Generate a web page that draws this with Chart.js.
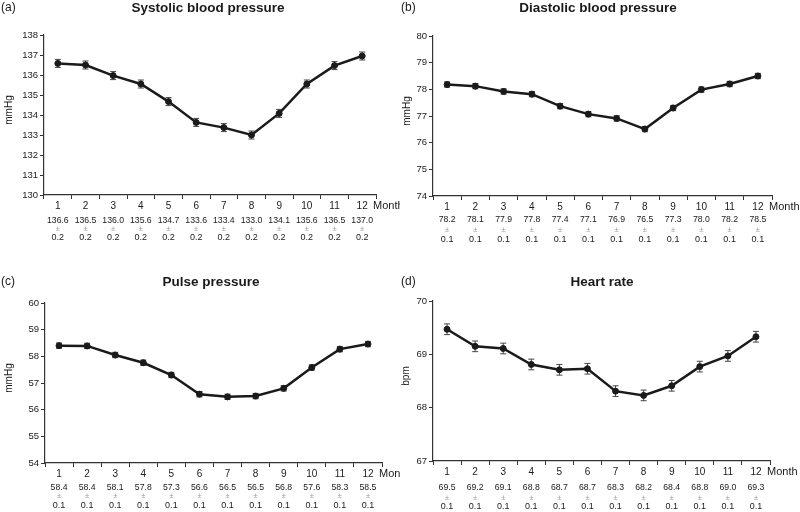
<!DOCTYPE html>
<html>
<head>
<meta charset="utf-8">
<script src="https://cdn.jsdelivr.net/npm/chart.js@4.4.0/dist/chart.umd.min.js"></script>
<style>
  body { margin: 0; background: #fff; }
  #wrap { position: relative; width: 800px; height: 512px; }
  canvas { position: absolute; }
</style>
</head>
<body>
<div id="wrap">
  <canvas id="sbp" width="400" height="256" style="left:0;top:0"></canvas>
  <canvas id="dbp" width="400" height="256" style="left:400px;top:0"></canvas>
  <canvas id="pp" width="400" height="256" style="left:0;top:256px"></canvas>
  <canvas id="hr" width="400" height="256" style="left:400px;top:256px"></canvas>
</div>
<script>
const months = ['1', '2', '3', '4', '5', '6', '7', '8', '9', '10', '11', '12'];

// (a) systolic
const sbpMean = [136.58, 136.5, 135.97, 135.55, 134.67, 133.63, 133.37, 133.0, 134.08, 135.55, 136.47, 136.95];
const sbpErr = [0.2, 0.2, 0.2, 0.2, 0.2, 0.2, 0.2, 0.2, 0.2, 0.2, 0.2, 0.2];
const sbpText = ['136.6', '136.5', '136.0', '135.6', '134.7', '133.6', '133.4', '133.0', '134.1', '135.6', '136.5', '137.0'];
const sbpErrText = ['0.2', '0.2', '0.2', '0.2', '0.2', '0.2', '0.2', '0.2', '0.2', '0.2', '0.2', '0.2'];
const sbpRange = [130, 138];

// (b) diastolic
const dbpMean = [78.18, 78.12, 77.92, 77.82, 77.37, 77.07, 76.91, 76.51, 77.3, 77.99, 78.2, 78.5];
const dbpErr = [0.1, 0.1, 0.1, 0.1, 0.1, 0.1, 0.1, 0.1, 0.1, 0.1, 0.1, 0.1];
const dbpText = ['78.2', '78.1', '77.9', '77.8', '77.4', '77.1', '76.9', '76.5', '77.3', '78.0', '78.2', '78.5'];
const dbpErrText = ['0.1', '0.1', '0.1', '0.1', '0.1', '0.1', '0.1', '0.1', '0.1', '0.1', '0.1', '0.1'];
const dbpRange = [74, 80];

// (c) pulse pressure
const ppMean = [58.4, 58.39, 58.05, 57.76, 57.3, 56.58, 56.48, 56.51, 56.8, 57.58, 58.27, 58.46];
const ppErr = [0.1, 0.1, 0.1, 0.1, 0.1, 0.1, 0.1, 0.1, 0.1, 0.1, 0.1, 0.1];
const ppText = ['58.4', '58.4', '58.1', '57.8', '57.3', '56.6', '56.5', '56.5', '56.8', '57.6', '58.3', '58.5'];
const ppErrText = ['0.1', '0.1', '0.1', '0.1', '0.1', '0.1', '0.1', '0.1', '0.1', '0.1', '0.1', '0.1'];
const ppRange = [54, 60];

// (d) heart rate
const hrMean = [69.47, 69.15, 69.11, 68.81, 68.71, 68.73, 68.31, 68.23, 68.41, 68.77, 68.97, 69.33];
const hrErr = [0.1, 0.1, 0.1, 0.1, 0.1, 0.1, 0.1, 0.1, 0.1, 0.1, 0.1, 0.1];
const hrText = ['69.5', '69.2', '69.1', '68.8', '68.7', '68.7', '68.3', '68.2', '68.4', '68.8', '69.0', '69.3'];
const hrErrText = ['0.1', '0.1', '0.1', '0.1', '0.1', '0.1', '0.1', '0.1', '0.1', '0.1', '0.1', '0.1'];
const hrRange = [67, 70];

const FONT = "'Liberation Sans', Arial, sans-serif";
const INK = '#1a1a1a';

// error bars, titles and the table under the x axis
const extras = {
  id: 'extras',
  beforeDatasetsDraw(chart, args, o) {
    const { ctx, scales: { x, y } } = chart;
    const vals = chart.data.datasets[0].data;
    ctx.save();
    ctx.strokeStyle = '#444';
    ctx.lineWidth = 1;
    vals.forEach((v, i) => {
      const px = x.getPixelForValue(i);
      const t = y.getPixelForValue(v + o.err[i]);
      const b = y.getPixelForValue(v - o.err[i]);
      ctx.beginPath();
      ctx.moveTo(px, t); ctx.lineTo(px, b);
      ctx.moveTo(px - 3, t); ctx.lineTo(px + 3, t);
      ctx.moveTo(px - 3, b); ctx.lineTo(px + 3, b);
      ctx.stroke();
    });
    ctx.restore();
  },
  afterDraw(chart, args, o) {
    const { ctx, chartArea: a, scales: { x } } = chart;
    ctx.save();
    ctx.fillStyle = INK;
    ctx.textBaseline = 'middle';

    ctx.font = '12px ' + FONT;
    ctx.textAlign = 'left';
    ctx.fillText(o.letter, 1, o.titleY);

    ctx.font = 'bold 13.5px ' + FONT;
    ctx.textAlign = 'center';
    ctx.fillText(o.title, o.titleX, o.titleY);

    ctx.font = '10px ' + FONT;
    ctx.save();
    ctx.translate(o.yTitleX, (a.top + a.bottom) / 2 - 5);
    ctx.rotate(-Math.PI / 2);
    ctx.fillText(o.yTitle, 0, 0);
    ctx.restore();

    ctx.font = '11px ' + FONT;
    ctx.textAlign = 'left';
    ctx.fillText('Month', a.right - 3, a.bottom + 11);

    ctx.textAlign = 'center';
    o.text.forEach((s, i) => {
      const px = x.getPixelForValue(i);
      ctx.fillStyle = INK;
      ctx.font = '8.7px ' + FONT;
      ctx.fillText(s, px, a.bottom + o.rows[0]);
      ctx.fillStyle = '#999';
      ctx.font = '7.5px ' + FONT;
      ctx.fillText('\u00b1', px, a.bottom + o.rows[1]);
      ctx.fillStyle = INK;
      ctx.font = '9px ' + FONT;
      ctx.fillText(o.errText[i], px, a.bottom + o.rows[2]);
    });
    ctx.restore();
  }
};

function panel(id, mean, range, yW, xH, pad, extra) {
  new Chart(document.getElementById(id), {
    type: 'line',
    data: {
      labels: months,
      datasets: [{
        data: mean,
        borderColor: INK,
        borderWidth: 2.5,
        pointRadius: 3,
        pointBorderWidth: 1,
        pointBackgroundColor: INK,
        pointBorderColor: INK,
        tension: 0
      }]
    },
    options: {
      responsive: false,
      animation: false,
      devicePixelRatio: 1,
      layout: { padding: pad },
      plugins: { legend: { display: false }, tooltip: { enabled: false }, extras: extra },
      scales: {
        x: {
          offset: true,
          grid: { offset: true, drawOnChartArea: false, tickLength: 4, color: '#333' },
          border: { color: '#333', width: 1.2 },
          ticks: { color: INK, font: { family: FONT, size: 10 }, padding: 1.5, maxRotation: 0, autoSkip: false },
          afterFit: s => { s.height = xH; }
        },
        y: {
          min: range[0],
          max: range[1],
          grid: { drawOnChartArea: false, tickLength: 4, color: '#333' },
          border: { color: '#333', width: 1.2 },
          ticks: { stepSize: 1, color: INK, font: { family: FONT, size: 9.5 }, padding: 2 },
          afterFit: s => { s.width = yW; }
        }
      }
    },
    plugins: [extras]
  });
}

panel('sbp', sbpMean, sbpRange, 44, 61, { top: 35, right: 24, left: 0, bottom: 0 }, {
  letter: '(a)', title: 'Systolic blood pressure', titleX: 208, titleY: 8, yTitle: 'mmHg', yTitleX: 9,
  err: sbpErr, text: sbpText, errText: sbpErrText, rows: [26, 34, 43]
});
panel('dbp', dbpMean, dbpRange, 33, 60, { top: 36, right: 28, left: 0, bottom: 0 }, {
  letter: '(b)', title: 'Diastolic blood pressure', titleX: 198, titleY: 8, yTitle: 'mmHg', yTitleX: 7,
  err: dbpErr, text: dbpText, errText: dbpErrText, rows: [24, 34, 44]
});
panel('pp', ppMean, ppRange, 45, 49, { top: 47, right: 18, left: 0, bottom: 0 }, {
  letter: '(c)', title: 'Pulse pressure', titleX: 211, titleY: 26, yTitle: 'mmHg', yTitleX: 9,
  err: ppErr, text: ppText, errText: ppErrText, rows: [25, 33, 43]
});
panel('hr', hrMean, hrRange, 33, 51, { top: 45, right: 30, left: 0, bottom: 0 }, {
  letter: '(d)', title: 'Heart rate', titleX: 202, titleY: 26, yTitle: 'bpm', yTitleX: 6,
  err: hrErr, text: hrText, errText: hrErrText, rows: [27, 37, 46]
});
</script>
</body>
</html>
